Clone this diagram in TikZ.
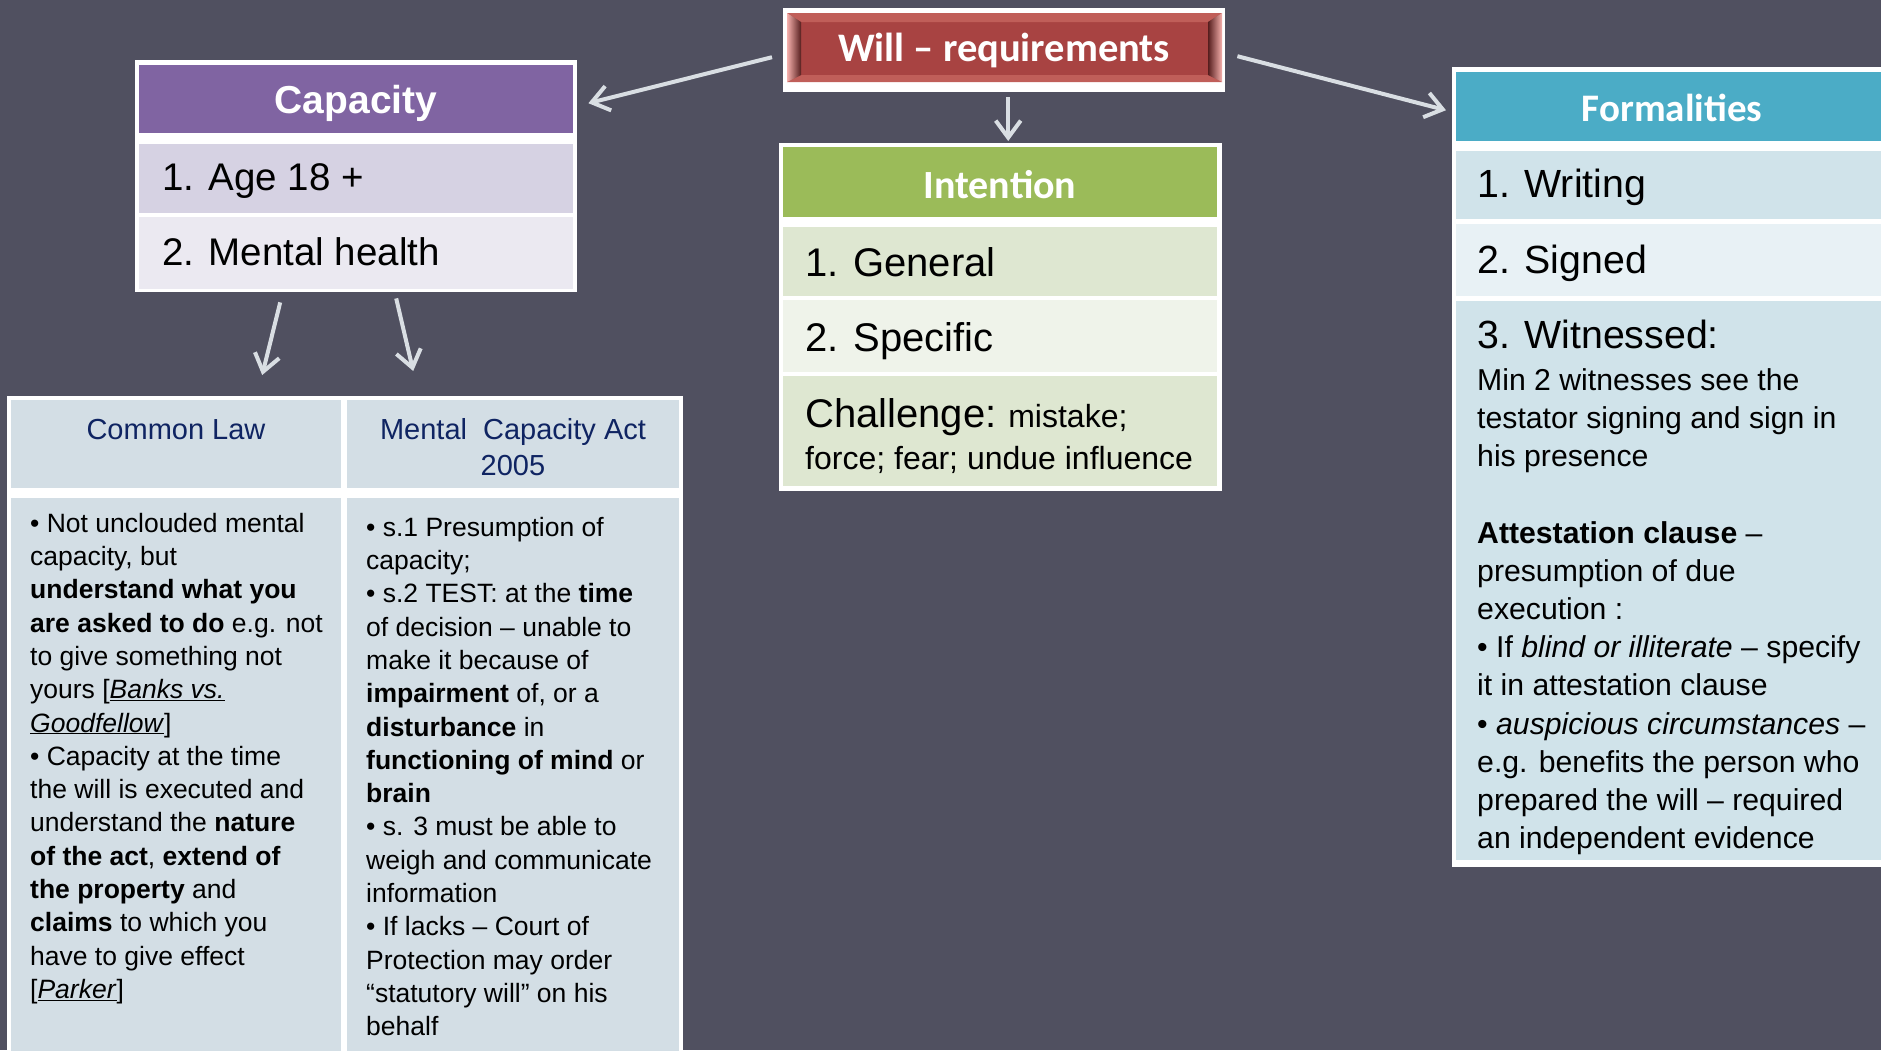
\documentclass[tikz,border=0pt]{standalone}
\usepackage{fontspec}
\setmainfont{Liberation Sans}
\newfontfamily\calib{Carlito}
\usetikzlibrary{arrows.meta}

\definecolor{slate}{RGB}{80,80,96}
\definecolor{arrowgrey}{RGB}{217,222,227}
\definecolor{willred}{RGB}{168,67,66}
\definecolor{willtop}{RGB}{192,94,89}
\definecolor{willdark}{RGB}{86,30,30}
\definecolor{willpink}{RGB}{246,176,172}
\definecolor{cappurple}{RGB}{128,100,162}
\definecolor{caprowA}{RGB}{214,210,227}
\definecolor{caprowB}{RGB}{235,233,241}
\definecolor{intgreen}{RGB}{155,187,89}
\definecolor{introwA}{RGB}{222,231,209}
\definecolor{introwB}{RGB}{239,243,234}
\definecolor{formteal}{RGB}{75,172,198}
\definecolor{formrowA}{RGB}{208,227,234}
\definecolor{formrowB}{RGB}{232,241,245}
\definecolor{tablecol}{RGB}{211,222,229}
\definecolor{navy}{RGB}{15,36,98}

\tikzset{
  frame/.style={fill=white, draw=none, inner sep=0pt, anchor=north west},
  bar/.style={draw=none, inner sep=0pt, anchor=north west},
  headtxt/.style={anchor=base, inner sep=0pt, text=white},
  txt/.style={anchor=base west, inner sep=0pt, text=black},
  para/.style={anchor=north west, inner sep=0pt, align=left, text=black},
  arr/.style={draw=arrowgrey, line width=4pt, -{Straight Barb[length=17pt,width=25pt]}}
}

\begin{document}
\begin{tikzpicture}[x=1pt, y=-1pt]
        \useasboundingbox (0,0) rectangle (1881,1050);
        \clip (0,0) rectangle (1881,1050);
        \fill[slate] (0,0) rectangle (1881,1050);

        % will - requirements
        \node[frame, minimum width=442pt, minimum height=84pt] (will) at (783,8) {};
        \fill[willred] (787,13) rectangle (1222,82);
        \fill[willtop] (787,13) -- (1222,13) -- (1208,22) -- (801,22) -- cycle;
        \fill[willtop] (787,82) -- (1222,82) -- (1208,75) -- (801,75) -- cycle;
        \shade[left color=willpink, right color=willdark] (787,13) -- (801,22) -- (801,75) -- (787,82) -- cycle;
        \shade[left color=willdark, right color=willpink] (1222,13) -- (1208,22) -- (1208,75) -- (1222,82) -- cycle;
        \node[headtxt, font=\calib\bfseries\fontsize{40.5}{48}\selectfont] (willtxt) at (1004,61) {Will – requirements};

        % capacity
        \node[frame, minimum width=442pt, minimum height=232pt] (cap) at (135,60) {};
        \node[bar, fill=cappurple, minimum width=434pt, minimum height=68pt] (caphead) at (139,65) {};
        \node[headtxt, font=\bfseries\fontsize{39}{46}\selectfont] (captxt) at (356,113) {Capacity};
        \fill[caprowA] (139,144) rectangle (573,213);
        \fill[caprowB] (139,217) rectangle (573,289);
        \node[txt, font=\fontsize{38.5}{46}\selectfont] (age) at (162,190) {1. Age 18 +};
        \node[txt, font=\fontsize{38.5}{46}\selectfont] (mental) at (162,265) {2. Mental health};

        % intention
        \node[frame, minimum width=443pt, minimum height=348pt] (intent) at (779,143) {};
        \node[bar, fill=intgreen, minimum width=434pt, minimum height=70pt] (inthead) at (783,147) {};
        \node[headtxt, font=\calib\bfseries\fontsize{40}{48}\selectfont] (inttxt) at (1000,198) {Intention};
        \fill[introwA] (783,227) rectangle (1217,296);
        \fill[introwB] (783,300) rectangle (1217,372);
        \fill[introwA] (783,376) rectangle (1217,486);
        \node[txt, font=\fontsize{40}{48}\selectfont] (general) at (805,276) {1. General};
        \node[txt, font=\fontsize{40}{48}\selectfont] (specific) at (805,351) {2. Specific};
        \node[txt, font=\fontsize{32}{40}\selectfont] (challenge) at (805,427) {{\fontsize{40}{48}\selectfont Challenge:} mistake;};
        \node[txt, font=\fontsize{32}{40}\selectfont] (influence) at (805,469) {force; fear; undue influence};

        % formalities
        \node[frame, minimum width=460pt, minimum height=800pt] (formal) at (1452,67) {};
        \node[bar, fill=formteal, minimum width=440pt, minimum height=69pt] (formhead) at (1456,72) {};
        \node[headtxt, font=\calib\bfseries\fontsize{39}{46}\selectfont] (formtxt) at (1672,121) {Formalities};
        \fill[formrowA] (1456,151) rectangle (1900,219);
        \fill[formrowB] (1456,224) rectangle (1900,296);
        \fill[formrowA] (1456,301) rectangle (1900,860);
        \node[txt, font=\fontsize{39.3}{46}\selectfont] (writing) at (1477,197) {1. Writing};
        \node[txt, font=\fontsize{39.3}{46}\selectfont] (signed) at (1477,273) {2. Signed};
        \node[txt, font=\fontsize{39.3}{46}\selectfont] (witnessed) at (1477,348) {3. Witnessed:};
        \node[para, font=\fontsize{30.2}{38.2}\selectfont] (attest) at (1477,363.3) {\strut Min 2 witnesses see the\\
          testator signing and sign in\\
          his presence\\[38.2pt]
          \textbf{Attestation clause} –\\
          presumption of due\\
          execution :\\
          • If \textit{blind or illiterate} – specify\\
          it in attestation clause\\
          • \textit{auspicious circumstances} –\\
          e.g. benefits the person who\\
          prepared the will – required\\
          an independent evidence};

        % common law / mental capacity act
        \node[frame, minimum width=676pt, minimum height=670pt] (table) at (7,396) {};
        \node[bar, fill=tablecol, minimum width=330pt, minimum height=88pt] (clhead) at (11,400) {};
        \node[bar, fill=tablecol, minimum width=332pt, minimum height=88pt] (mcahead) at (347,400) {};
        \fill[tablecol] (11,498) rectangle (341,1060);
        \fill[tablecol] (347,498) rectangle (679,1060);
        \node[anchor=base, inner sep=0pt, text=navy, font=\fontsize{29}{36}\selectfont] (cltxt) at (176,439) {Common Law};
        \node[anchor=north, inner sep=0pt, align=center, text=navy, font=\fontsize{29}{36}\selectfont] (mcatxt) at (513,413.8) {\strut Mental\ \ Capacity Act\\2005};
        \node[para, font=\fontsize{26.5}{33.3}\selectfont] (clbody) at (30,508.7) {\strut • Not unclouded mental\\
          capacity, but\\
          \textbf{understand what you}\\
          \textbf{are asked to do} e.g. not\\
          to give something not\\
          yours {[}\underline{\textit{Banks vs.}}\\
          \underline{\textit{Goodfellow}}{]}\\
          • Capacity at the time\\
          the will is executed and\\
          understand the \textbf{nature}\\
          \textbf{of the act}, \textbf{extend of}\\
          \textbf{the property} and\\
          \textbf{claims} to which you\\
          have to give effect\\
          {[}\underline{\textit{Parker}}{]}};
        \node[para, font=\fontsize{26.5}{33.3}\selectfont] (mcabody) at (366,512.7) {\strut • s.1 Presumption of\\
          capacity;\\
          • s.2 TEST: at the \textbf{time}\\
          of decision – unable to\\
          make it because of\\
          \textbf{impairment} of, or a\\
          \textbf{disturbance} in\\
          \textbf{functioning of mind} or\\
          \textbf{brain}\\
          • s. 3 must be able to\\
          weigh and communicate\\
          information\\
          • If lacks – Court of\\
          Protection may order\\
          “statutory will” on his\\
          behalf};

        % arrows
        \draw[arr] ([shift={(-11,7)}]will.west) -- ([shift={(15,4)}]caphead.east);
        \draw[arr] ([shift={(12,6)}]will.east) -- ([shift={(-10,3.5)}]formhead.west);
        \draw[arr] ([shift={(4,5)}]will.south) -- ([shift={(8,-6)}]inthead.north);
        \draw[arr] ([shift={(-76,10)}]cap.south) -- ([shift={(86,-25)}]clhead.north);
        \draw[arr] ([shift={(40,6)}]cap.south) -- ([shift={(-100,-29)}]mcahead.north);
      \end{tikzpicture}
\end{document}
